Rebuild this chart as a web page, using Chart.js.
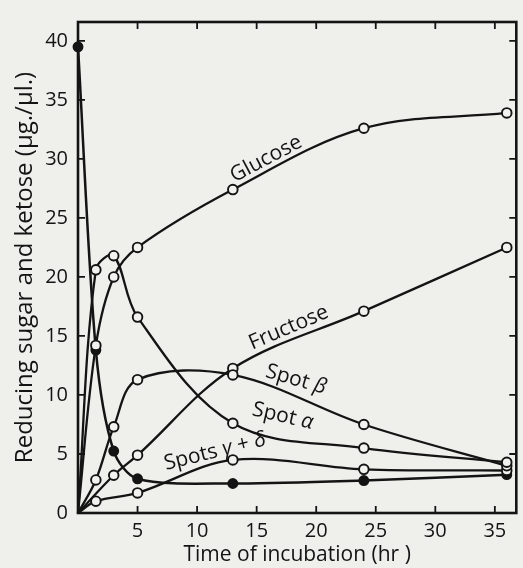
<!DOCTYPE html>
<html><head><meta charset="utf-8">
<script src="https://cdn.jsdelivr.net/npm/chart.js@4.4.1/dist/chart.umd.min.js"></script>
<style>
html,body{margin:0;padding:0;background:#efefeb;}
#wrap{width:523px;height:568px;position:relative;}
</style></head><body>
<div id="wrap"><canvas id="c"></canvas></div>
<script>
// ---- data ----
const times = [0, 1.5, 3, 5, 13, 24, 36];
const sucrose = [39.5, 13.8, 5.25, 2.9, 2.5, 2.75, 3.25];
const glucose = [0, 14.2, 20.0, 22.5, 27.4, 32.6, 33.9];
const spotAlpha = [0, 20.6, 21.8, 16.6, 7.6, 5.5, 4.3];
const spotBeta = [0, 2.8, 7.3, 11.3, 11.7, 7.5, 4.0];
const fructose = [0, null, 3.2, 4.9, 12.25, 17.1, 22.5];
const spotsGammaDelta = [0, 1.0, null, 1.7, 4.5, 3.7, 3.6];
const xTicks = [0, 5, 10, 15, 20, 25, 30, 35];
const yTicks = [0, 5, 10, 15, 20, 25, 30, 35, 40];
const xTitle = 'Time of incubation (hr )';
const yTitle = 'Reducing sugar and ketose (\u03bcg./\u03bcl.)';

// curve labels (text pieces: [text, italic]) placed in data coordinates
const curveLabels = [
  {parts: [['Glucose', false]], x: 15.8, y: 30.0, angle: -28},
  {parts: [['Fructose', false]], x: 17.7, y: 15.7, angle: -23},
  {parts: [['Spot ', false], ['\u03b2', true]], x: 18.3, y: 11.3, angle: 16},
  {parts: [['Spot ', false], ['\u03b1', true]], x: 17.2, y: 8.2, angle: 13},
  {parts: [['Spots ', false], ['\u03b3', true], [' + ', false], ['\u03b4', true]], x: 11.5, y: 5.2, angle: -14}
];

const INK = '#141414';
const FONT = "'Open Sans', sans-serif";

function pts(arr) {
  return times.map((t, i) => ({x: t, y: arr[i]})).filter(p => p.y !== null);
}
function openSeries(label, arr) {
  return {
    label, data: pts(arr), borderColor: INK, borderWidth: 2.3,
    backgroundColor: '#f2f2ef', pointBackgroundColor: '#f2f2ef',
    pointBorderColor: INK, pointBorderWidth: 1.9,
    pointRadius: c => (c.raw && c.raw.x === 0 && c.raw.y === 0) ? 0 : 4.8,
    tension: 0.35, clip: false, order: 0
  };
}

const framePlugin = {
  id: 'frame',
  beforeDatasetsDraw(chart) {
    const {ctx, chartArea: a, scales: {x, y}} = chart;
    ctx.save();
    ctx.strokeStyle = INK;
    ctx.lineWidth = 2.6;
    ctx.strokeRect(a.left, a.top, a.right - a.left, a.bottom - a.top);
    ctx.lineWidth = 1.8;
    ctx.beginPath();
    const tl = 7;
    xTicks.forEach(v => {
      if (v === 0) return;
      const px = x.getPixelForValue(v);
      ctx.moveTo(px, a.bottom); ctx.lineTo(px, a.bottom - tl);
      ctx.moveTo(px, a.top); ctx.lineTo(px, a.top + tl);
    });
    yTicks.forEach(v => {
      if (v === 0) return;
      const py = y.getPixelForValue(v);
      ctx.moveTo(a.left, py); ctx.lineTo(a.left + tl, py);
      ctx.moveTo(a.right, py); ctx.lineTo(a.right - tl, py);
    });
    ctx.stroke();
    ctx.restore();
  },
  afterDatasetsDraw(chart) {
    const {ctx, scales: {x, y}} = chart;
    ctx.save();
    ctx.fillStyle = INK;
    ctx.textBaseline = 'middle';
    curveLabels.forEach(l => {
      const px = x.getPixelForValue(l.x), py = y.getPixelForValue(l.y);
      ctx.save();
      ctx.translate(px, py);
      ctx.rotate(l.angle * Math.PI / 180);
      let total = 0;
      const widths = l.parts.map(([t, it]) => {
        ctx.font = (it ? 'italic ' : '') + '500 21px ' + FONT;
        const w = ctx.measureText(t).width; total += w; return w;
      });
      let cx = -total / 2;
      l.parts.forEach(([t, it], i) => {
        ctx.font = (it ? 'italic ' : '') + '500 21px ' + FONT;
        ctx.textAlign = 'left';
        ctx.fillText(t, cx, 0);
        cx += widths[i];
      });
      ctx.restore();
    });
    ctx.restore();
  }
};

new Chart(document.getElementById('c'), {
  type: 'line',
  data: {
    datasets: [
      openSeries('Glucose', glucose),
      openSeries('Spot \u03b1', spotAlpha),
      openSeries('Spot \u03b2', spotBeta),
      openSeries('Fructose', fructose),
      openSeries('Spots \u03b3 + \u03b4', spotsGammaDelta),
      {
        label: 'Sucrose', data: pts(sucrose), borderColor: INK, borderWidth: 2.5,
        pointBackgroundColor: INK, pointBorderColor: INK, pointRadius: 4.2,
        backgroundColor: INK, tension: 0.3, clip: false, order: 1
      }
    ]
  },
  options: {
    responsive: true, maintainAspectRatio: false, animation: false,
    layout: {padding: {top: 14, right: 2, left: 0, bottom: 0}},
    plugins: {legend: {display: false}, tooltip: {enabled: false}},
    scales: {
      x: {
        type: 'linear', min: 0, max: 36.8,
        afterFit: s => { s.height = 55; },
        afterBuildTicks: s => { s.ticks = xTicks.map(v => ({value: v})); },
        grid: {display: false, drawTicks: false}, border: {display: false},
        ticks: {color: INK, font: {family: FONT, size: 20, weight: '500'}, padding: 6,
          callback: v => v === 0 ? '' : String(v), maxRotation: 0, autoSkip: false},
        title: {display: true, text: xTitle, color: INK, font: {family: FONT, size: 21, weight: '500'}, padding: {top: 0, bottom: 0}}
      },
      y: {
        type: 'linear', min: 0, max: 41.6,
        afterFit: s => { s.width = 78; },
        afterBuildTicks: s => { s.ticks = yTicks.map(v => ({value: v})); },
        grid: {display: false, drawTicks: false}, border: {display: false},
        ticks: {color: INK, font: {family: FONT, size: 20, weight: '500'}, padding: 10, autoSkip: false},
        title: {display: true, text: yTitle, color: INK, font: {family: FONT, size: 24, weight: '500'}, padding: {top: 11, bottom: 0}}
      }
    }
  },
  plugins: [framePlugin]
});
</script>
</body></html>
